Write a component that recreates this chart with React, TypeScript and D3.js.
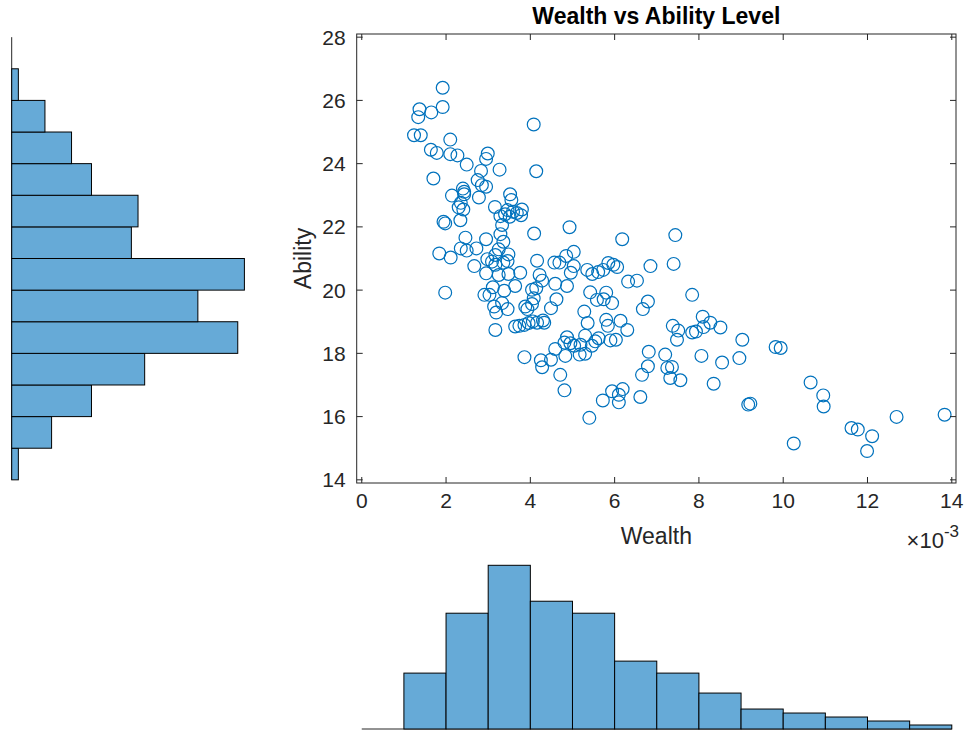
import React from 'react';
import * as d3 from 'd3';

// Wealth values are in units of 10^-3
const wealth = [
  1.92, 1.37, 1.34, 1.65, 1.92, 4.08,
  1.24, 1.40, 2.10, 1.64, 1.78, 2.10, 2.27, 2.99, 2.95,
  2.49, 3.27, 4.14, 1.70, 2.83, 2.75, 2.85, 2.95, 2.40, 2.43, 2.43, 3.52,
  2.14, 2.78, 3.55, 2.35, 2.30, 2.41, 3.16, 3.46, 3.59, 3.68, 3.80, 3.78, 3.40, 3.51, 3.29, 2.34, 1.94, 1.98, 3.33,
  4.93, 3.29, 3.36, 4.09, 2.46, 2.95, 2.35, 2.49, 2.72, 1.84, 2.11, 3.25, 3.17, 3.48, 5.03, 4.85, 6.18, 7.44,
  2.67, 2.98, 3.09, 3.17, 2.95, 3.25, 3.36, 3.46, 3.48, 3.76, 4.16, 4.22, 4.57, 4.69, 5.03, 4.96, 5.35, 5.47, 5.61, 5.73,
  5.85, 5.97, 6.06, 6.85, 7.40, 6.32, 6.53, 4.28, 4.59, 4.87, 3.11, 3.64, 4.14, 4.04,
  3.38, 1.98, 2.91, 3.03, 4.08, 4.62, 3.14, 3.19, 3.33, 3.46, 3.88, 3.93, 4.04, 4.49, 5.28, 5.42, 5.80, 5.58, 5.74, 5.94,
  7.84, 6.79, 6.67, 8.09, 4.30, 4.06, 5.80, 6.14,
  3.64, 3.74, 3.86, 3.96, 4.16, 4.33, 3.17, 5.36, 5.30, 4.87, 4.81, 4.95, 5.04, 5.19, 4.59, 5.84, 6.30, 7.38, 7.51, 7.48,
  7.84, 7.93, 8.27, 8.11, 8.51, 9.03, 9.82, 9.94, 5.62, 5.54, 5.46, 5.90, 6.03, 6.81,
  5.17, 4.83, 4.49, 4.25, 4.28, 3.86, 4.71, 5.30, 7.20, 8.06, 8.96, 8.55, 6.79, 6.65, 7.25, 7.36, 7.32, 7.56, 8.35, 10.65,
  4.81, 5.94, 6.19, 6.10, 6.10, 5.72, 6.61, 9.17, 9.22, 10.95, 10.96, 13.83,
  5.40, 11.62, 11.77, 12.11, 12.69, 10.25,
  11.99,
];

const ability = [
  26.40, 25.72, 25.47, 25.62, 25.79, 25.24,
  24.90, 24.90, 24.76, 24.44, 24.34, 24.30, 24.26, 24.32, 24.15,
  23.97, 23.81, 23.76, 23.53, 23.77, 23.48, 23.32, 23.27, 23.21, 23.11, 23.03, 23.03,
  22.99, 22.93, 22.85, 22.76, 22.62, 22.55, 22.63, 22.53, 22.48, 22.44, 22.55, 22.37, 22.40, 22.32, 22.34, 22.21, 22.16, 22.11, 22.06,
  21.99, 21.77, 21.53, 21.79, 21.66, 21.61, 21.32, 21.25, 21.32, 21.16, 21.03, 21.29, 21.11, 21.13, 21.21, 21.08, 21.61, 21.74,
  20.76, 20.98, 20.90, 20.80, 20.53, 20.48, 20.87, 20.92, 20.51, 20.55, 20.93, 20.48, 20.87, 20.87, 20.76, 20.55, 20.64, 20.51, 20.57, 20.64,
  20.86, 20.80, 20.73, 20.76, 20.83, 20.27, 20.30, 20.30, 20.20, 20.13, 20.09, 20.13, 20.06, 20.01,
  19.98, 19.92, 19.85, 19.85, 19.74, 19.71, 19.48, 19.29, 19.59, 19.40, 19.48, 19.40, 19.56, 19.43, 19.32, 19.93, 19.92, 19.69, 19.71, 19.59,
  19.85, 19.64, 19.40, 19.16, 19.04, 19.01, 19.06, 19.03,
  18.85, 18.87, 18.90, 18.96, 18.97, 18.97, 18.74, 18.96, 18.56, 18.51, 18.34, 18.32, 18.24, 18.27, 18.14, 18.87, 18.74, 18.87, 18.72, 18.43,
  18.66, 18.69, 18.97, 18.83, 18.82, 18.43, 18.20, 18.17, 18.48, 18.38, 18.24, 18.41, 18.43, 18.05,
  17.96, 17.92, 17.80, 17.78, 17.56, 17.88, 17.32, 17.99, 17.96, 17.92, 17.85, 17.71, 17.59, 17.32, 17.54, 17.57, 17.22, 17.15, 17.04, 17.08,
  16.83, 16.80, 16.87, 16.69, 16.45, 16.51, 16.62, 16.38, 16.41, 16.67, 16.32, 16.06,
  15.96, 15.64, 15.59, 15.38, 15.99, 15.15,
  14.91,
];

// Marginal histograms: left edge of each bin and its count
const wealthBinStarts = [1, 2, 3, 4, 5, 6, 7, 8, 9, 10, 11, 12, 13];
const wealthCounts = [14, 29, 41, 32, 29, 17, 14, 9, 5, 4, 3, 2, 1];
const abilityBinStarts = [14, 15, 16, 17, 18, 19, 20, 21, 22, 23, 24, 25, 26];
const abilityCounts = [1, 6, 12, 20, 34, 28, 35, 18, 19, 12, 9, 5, 1];

const xTicks = [0, 2, 4, 6, 8, 10, 12, 14];
const yTicks = [14, 16, 18, 20, 22, 24, 26, 28];

const W = 968;
const H = 736;
const FONT = '"Liberation Sans", Arial, Helvetica, sans-serif';
const AXIS = '#262626';
const MARK = '#0072BD';
const BAR = '#66AAD7';

export default function App() {
  const box = { left: 356.7, right: 956, top: 34, bottom: 483 };
  const x = d3.scaleLinear().domain([-0.12, 14.1]).range([box.left, box.right]);
  const y = d3.scaleLinear().domain([13.9, 28.1]).range([box.bottom, box.top]);

  // left histogram (horizontal bars), sharing the ability scale
  const leftBase = 11.7;
  const cLeft = d3.scaleLinear().domain([0, 35]).range([leftBase, 244.4]);
  // bottom histogram, sharing the wealth scale
  const bottomBase = 729;
  const cBottom = d3.scaleLinear().domain([0, 41]).range([bottomBase, 565.3]);

  const tick = 6;
  const points = wealth.map((w, i) => ({ w, a: ability[i] }));

  return (
    <svg
      width={W}
      height={H}
      viewBox={`0 0 ${W} ${H}`}
      style={{ position: 'absolute', left: 0, top: 0, display: 'block', background: '#fff' }}
      fontFamily={FONT}
    >
      <rect x={0} y={0} width={W} height={H} fill="#fff" />

      {/* title */}
      <text x={(box.left + box.right) / 2} y={24} textAnchor="middle" fontSize={23} fontWeight="bold" fill="#000">
        Wealth vs Ability Level
      </text>

      {/* scatter points */}
      <g fill="none" stroke={MARK} strokeWidth={1.2}>
        {points.map((p, i) => (
          <circle key={i} cx={x(p.w)} cy={y(p.a)} r={6.4} />
        ))}
      </g>

      {/* axes box */}
      <rect
        x={box.left}
        y={box.top}
        width={box.right - box.left}
        height={box.bottom - box.top}
        fill="none"
        stroke={AXIS}
        strokeWidth={1}
      />
      <g stroke={AXIS} strokeWidth={1}>
        {xTicks.map((t) => (
          <g key={'xt' + t}>
            <line x1={x(t)} x2={x(t)} y1={box.bottom} y2={box.bottom - tick} />
            <line x1={x(t)} x2={x(t)} y1={box.top} y2={box.top + tick} />
          </g>
        ))}
        {yTicks.map((t) => (
          <g key={'yt' + t}>
            <line x1={box.left} x2={box.left + tick} y1={y(t)} y2={y(t)} />
            <line x1={box.right} x2={box.right - tick} y1={y(t)} y2={y(t)} />
          </g>
        ))}
      </g>
      <g fill={AXIS} fontSize={21}>
        {xTicks.map((t) => (
          <text key={'xl' + t} x={x(t)} y={508} textAnchor="middle">
            {t}
          </text>
        ))}
        {yTicks.map((t) => (
          <text key={'yl' + t} x={box.left - 11} y={y(t)} textAnchor="end" dominantBaseline="central">
            {t}
          </text>
        ))}
      </g>

      {/* axis labels */}
      <text x={(box.left + box.right) / 2} y={544} textAnchor="middle" fontSize={23} fill={AXIS}>
        Wealth
      </text>
      <text
        transform={`translate(311, ${(box.top + box.bottom) / 2}) rotate(-90)`}
        textAnchor="middle"
        fontSize={23}
        fill={AXIS}
      >
        Ability
      </text>
      <text x={959} y={548} textAnchor="end" fontSize={22} fill={AXIS}>
        <tspan>×10</tspan>
        <tspan fontSize={17} dy={-11}>-3</tspan>
      </text>

      {/* left marginal histogram */}
      <line x1={leftBase} x2={leftBase} y1={y(28)} y2={y(14)} stroke={AXIS} strokeWidth={1} />
      <g fill={BAR} stroke="#000" strokeWidth={1}>
        {abilityBinStarts.map((b, i) => (
          <rect
            key={'ab' + b}
            x={leftBase}
            y={y(b + 1)}
            width={cLeft(abilityCounts[i]) - leftBase}
            height={y(b) - y(b + 1)}
          />
        ))}
      </g>

      {/* bottom marginal histogram */}
      <line x1={x(0)} x2={x(14)} y1={bottomBase} y2={bottomBase} stroke={AXIS} strokeWidth={1} />
      <g fill={BAR} stroke="#000" strokeWidth={1}>
        {wealthBinStarts.map((b, i) => (
          <rect
            key={'wb' + b}
            x={x(b)}
            y={cBottom(wealthCounts[i])}
            width={x(b + 1) - x(b)}
            height={bottomBase - cBottom(wealthCounts[i])}
          />
        ))}
      </g>
    </svg>
  );
}
